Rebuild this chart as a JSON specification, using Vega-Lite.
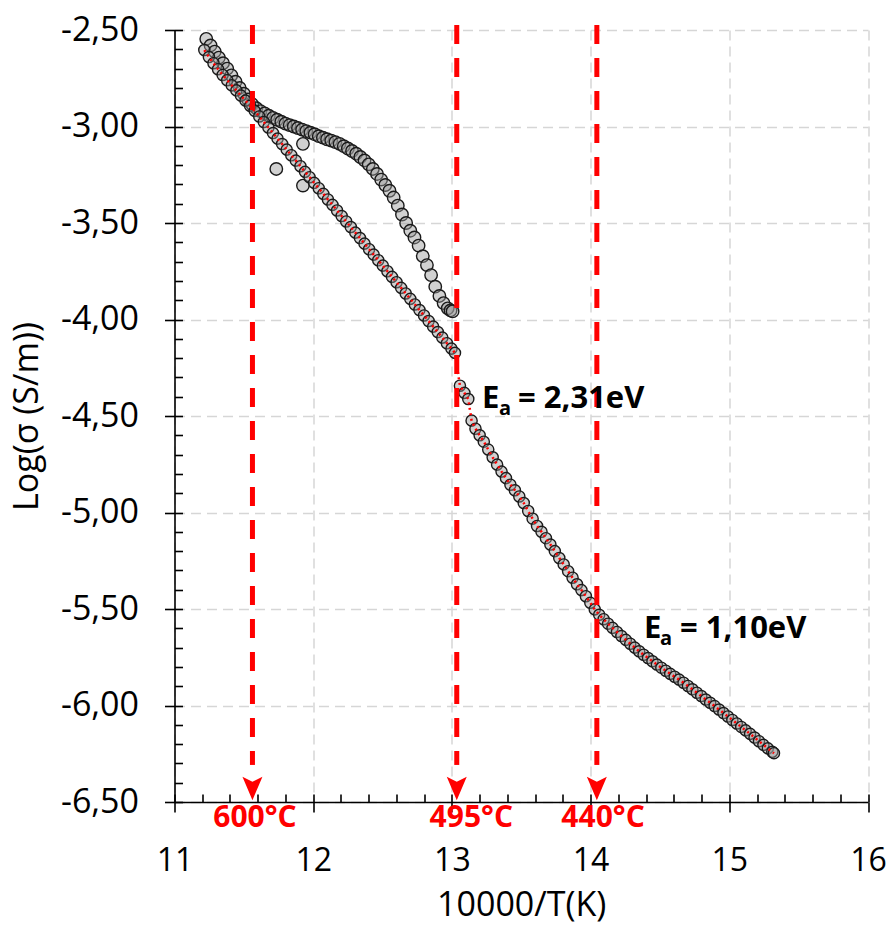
{
  "$schema": "https://vega.github.io/schema/vega-lite/v6.json",
  "autosize": "none",
  "width": 693.5,
  "height": 772,
  "padding": {"left": 174.5, "top": 30, "right": 25, "bottom": 126},
  "background": "white",
  "config": {"view": {"stroke": null}},
  "datasets": {
    "cool": [
      {"x": 11.215, "y": -2.604}, {"x": 11.248, "y": -2.640}, {"x": 11.281, "y": -2.672}, {"x": 11.314, "y": -2.703},
      {"x": 11.347, "y": -2.733}, {"x": 11.380, "y": -2.760}, {"x": 11.413, "y": -2.787}, {"x": 11.446, "y": -2.813},
      {"x": 11.479, "y": -2.840}, {"x": 11.512, "y": -2.866}, {"x": 11.545, "y": -2.893}, {"x": 11.578, "y": -2.919},
      {"x": 11.611, "y": -2.948}, {"x": 11.644, "y": -2.977}, {"x": 11.677, "y": -3.005}, {"x": 11.710, "y": -3.034},
      {"x": 11.743, "y": -3.063}, {"x": 11.776, "y": -3.091}, {"x": 11.809, "y": -3.120}, {"x": 11.842, "y": -3.149},
      {"x": 11.875, "y": -3.177}, {"x": 11.908, "y": -3.206}, {"x": 11.941, "y": -3.235}, {"x": 11.974, "y": -3.263},
      {"x": 12.007, "y": -3.292}, {"x": 12.040, "y": -3.320}, {"x": 12.073, "y": -3.349}, {"x": 12.106, "y": -3.378},
      {"x": 12.139, "y": -3.406}, {"x": 12.172, "y": -3.435}, {"x": 12.205, "y": -3.464}, {"x": 12.238, "y": -3.492},
      {"x": 12.271, "y": -3.521}, {"x": 12.304, "y": -3.550}, {"x": 12.337, "y": -3.578}, {"x": 12.370, "y": -3.607},
      {"x": 12.403, "y": -3.636}, {"x": 12.436, "y": -3.664}, {"x": 12.469, "y": -3.693}, {"x": 12.502, "y": -3.721},
      {"x": 12.535, "y": -3.750}, {"x": 12.568, "y": -3.779}, {"x": 12.601, "y": -3.807}, {"x": 12.634, "y": -3.836},
      {"x": 12.667, "y": -3.865}, {"x": 12.700, "y": -3.893}, {"x": 12.733, "y": -3.922}, {"x": 12.766, "y": -3.951},
      {"x": 12.799, "y": -3.979}, {"x": 12.832, "y": -4.008}, {"x": 12.865, "y": -4.037}, {"x": 12.898, "y": -4.065},
      {"x": 12.931, "y": -4.094}, {"x": 12.964, "y": -4.123}, {"x": 12.997, "y": -4.151}, {"x": 13.022, "y": -4.173},
      {"x": 13.058, "y": -4.343}, {"x": 13.090, "y": -4.380}, {"x": 13.118, "y": -4.412}, {"x": 13.142, "y": -4.524},
      {"x": 13.170, "y": -4.566}, {"x": 13.200, "y": -4.600}, {"x": 13.230, "y": -4.633}, {"x": 13.262, "y": -4.674},
      {"x": 13.294, "y": -4.714}, {"x": 13.326, "y": -4.752}, {"x": 13.358, "y": -4.788}, {"x": 13.390, "y": -4.822},
      {"x": 13.422, "y": -4.856}, {"x": 13.454, "y": -4.885}, {"x": 13.486, "y": -4.917}, {"x": 13.518, "y": -4.951},
      {"x": 13.550, "y": -4.992}, {"x": 13.582, "y": -5.032}, {"x": 13.614, "y": -5.070}, {"x": 13.646, "y": -5.100},
      {"x": 13.678, "y": -5.133}, {"x": 13.710, "y": -5.166}, {"x": 13.742, "y": -5.200}, {"x": 13.774, "y": -5.236},
      {"x": 13.806, "y": -5.269}, {"x": 13.838, "y": -5.304}, {"x": 13.870, "y": -5.338}, {"x": 13.902, "y": -5.372},
      {"x": 13.934, "y": -5.402}, {"x": 13.966, "y": -5.434}, {"x": 13.998, "y": -5.468}, {"x": 14.030, "y": -5.502},
      {"x": 14.062, "y": -5.530}, {"x": 14.094, "y": -5.553}, {"x": 14.126, "y": -5.576}, {"x": 14.158, "y": -5.598},
      {"x": 14.190, "y": -5.619}, {"x": 14.222, "y": -5.640}, {"x": 14.254, "y": -5.660}, {"x": 14.286, "y": -5.680},
      {"x": 14.318, "y": -5.700}, {"x": 14.350, "y": -5.719}, {"x": 14.382, "y": -5.737}, {"x": 14.414, "y": -5.754},
      {"x": 14.446, "y": -5.771}, {"x": 14.478, "y": -5.788}, {"x": 14.510, "y": -5.804}, {"x": 14.542, "y": -5.820},
      {"x": 14.574, "y": -5.836}, {"x": 14.606, "y": -5.851}, {"x": 14.638, "y": -5.866}, {"x": 14.670, "y": -5.882},
      {"x": 14.702, "y": -5.899}, {"x": 14.734, "y": -5.916}, {"x": 14.766, "y": -5.934}, {"x": 14.798, "y": -5.951},
      {"x": 14.830, "y": -5.969}, {"x": 14.862, "y": -5.986}, {"x": 14.894, "y": -6.003}, {"x": 14.926, "y": -6.021},
      {"x": 14.958, "y": -6.039}, {"x": 14.990, "y": -6.057}, {"x": 15.022, "y": -6.075}, {"x": 15.054, "y": -6.093},
      {"x": 15.086, "y": -6.111}, {"x": 15.118, "y": -6.129}, {"x": 15.150, "y": -6.147}, {"x": 15.182, "y": -6.166},
      {"x": 15.214, "y": -6.185}, {"x": 15.246, "y": -6.204}, {"x": 15.278, "y": -6.222}, {"x": 15.310, "y": -6.240},
      {"x": 15.322, "y": -6.247}
    ],
    "heat": [
      {"x": 11.229, "y": -2.546}, {"x": 11.26, "y": -2.580}, {"x": 11.29, "y": -2.612}, {"x": 11.32, "y": -2.643},
      {"x": 11.35, "y": -2.672}, {"x": 11.38, "y": -2.700}, {"x": 11.41, "y": -2.735}, {"x": 11.44, "y": -2.768},
      {"x": 11.47, "y": -2.800}, {"x": 11.50, "y": -2.830}, {"x": 11.53, "y": -2.860}, {"x": 11.56, "y": -2.885},
      {"x": 11.59, "y": -2.905}, {"x": 11.62, "y": -2.920}, {"x": 11.65, "y": -2.932}, {"x": 11.68, "y": -2.944},
      {"x": 11.71, "y": -2.955}, {"x": 11.74, "y": -2.965}, {"x": 11.77, "y": -2.975}, {"x": 11.80, "y": -2.985},
      {"x": 11.83, "y": -2.993}, {"x": 11.86, "y": -3.000}, {"x": 11.89, "y": -3.008}, {"x": 11.92, "y": -3.016},
      {"x": 11.95, "y": -3.024}, {"x": 11.98, "y": -3.032}, {"x": 12.01, "y": -3.040}, {"x": 12.04, "y": -3.050},
      {"x": 12.07, "y": -3.058}, {"x": 12.10, "y": -3.066}, {"x": 12.13, "y": -3.073}, {"x": 12.16, "y": -3.081},
      {"x": 12.19, "y": -3.090}, {"x": 12.22, "y": -3.102}, {"x": 12.25, "y": -3.114}, {"x": 12.28, "y": -3.127},
      {"x": 12.31, "y": -3.141}, {"x": 12.34, "y": -3.158}, {"x": 12.37, "y": -3.176}, {"x": 12.40, "y": -3.196},
      {"x": 12.43, "y": -3.220}, {"x": 12.46, "y": -3.246}, {"x": 12.49, "y": -3.275}, {"x": 12.52, "y": -3.303},
      {"x": 12.55, "y": -3.333}, {"x": 12.58, "y": -3.368}, {"x": 12.61, "y": -3.410}, {"x": 12.64, "y": -3.456},
      {"x": 12.67, "y": -3.500}, {"x": 12.70, "y": -3.540}, {"x": 12.73, "y": -3.575}, {"x": 12.76, "y": -3.617},
      {"x": 12.79, "y": -3.672}, {"x": 12.82, "y": -3.718}, {"x": 12.85, "y": -3.770}, {"x": 12.88, "y": -3.830},
      {"x": 12.91, "y": -3.878}, {"x": 12.94, "y": -3.915}, {"x": 12.97, "y": -3.942}, {"x": 12.99, "y": -3.953},
      {"x": 13.005, "y": -3.958},
      {"x": 11.734, "y": -3.220}, {"x": 11.926, "y": -3.306}, {"x": 11.926, "y": -3.090}
    ],
    "temps": [
      {"x": 11.562, "lx": 11.58, "label": "600°C"},
      {"x": 13.035, "lx": 13.14, "label": "495°C"},
      {"x": 14.045, "lx": 14.09, "label": "440°C"}
    ],
    "annE": [
      {"x": 13.217, "y": -4.459, "t": "E"},
      {"x": 14.385, "y": -5.652, "t": "E"}
    ],
    "annA": [
      {"x": 13.34, "y": -4.495, "t": "a"},
      {"x": 14.50, "y": -5.686, "t": "a"}
    ],
    "annV": [
      {"x": 13.477, "y": -4.459, "t": "= 2,31eV"},
      {"x": 14.645, "y": -5.652, "t": "= 1,10eV"}
    ]
  },
  "resolve": {"axis": {"x": "independent", "y": "independent"}},
  "layer": [
    {
      "data": {"name": "heat"},
      "mark": {"type": "point", "shape": "circle", "filled": true, "size": 155, "fill": "#9a9a9a", "fillOpacity": 0.45, "stroke": "#1a1a1a", "strokeWidth": 1.4, "opacity": 1},
      "encoding": {
        "x": {"field": "x", "type": "quantitative", "scale": {"domain": [11, 16], "nice": false, "zero": false},
          "axis": {"orient": "bottom", "values": [11, 12, 13, 14, 15, 16], "format": "d", "grid": true, "gridColor": "#d6d6d6", "gridDash": [10, 6], "gridWidth": 1.5,
            "domainColor": "#000", "domainWidth": 1.6, "tickColor": "#000", "tickWidth": 1.6, "tickSize": 10,
            "labelFont": "Open Sans", "labelFontSize": 32, "labelColor": "#000", "labelPadding": 33, "labelFlush": false, "labelOverlap": false,
            "title": "10000/T(K)", "titleFont": "Open Sans", "titleFontSize": 34, "titleFontWeight": "normal", "titleColor": "#000", "titlePadding": 12}},
        "y": {"field": "y", "type": "quantitative", "scale": {"domain": [-6.5, -2.5], "nice": false, "zero": false},
          "axis": {"orient": "left", "values": [-6.5, -6, -5.5, -5, -4.5, -4, -3.5, -3, -2.5], "grid": true, "gridColor": "#d6d6d6", "gridDash": [10, 6], "gridWidth": 1.5,
            "labelExpr": "replace(replace(format(datum.value, '.2f'), '.', ','), '\u2212', '-')",
            "domainColor": "#000", "domainWidth": 1.6, "tickColor": "#000", "tickWidth": 1.6, "tickSize": 10,
            "labelFont": "Open Sans", "labelFontSize": 34, "labelColor": "#000", "labelPadding": 26, "labelFlush": false, "labelOverlap": false,
            "title": "Log(σ (S/m))", "titleFont": "Open Sans", "titleFontSize": 34, "titleFontWeight": "normal", "titleColor": "#000", "titlePadding": 16}}
      }
    },
    {
      "data": {"name": "cool"},
      "mark": {"type": "point", "shape": "circle", "filled": true, "size": 125, "fill": "#9a9a9a", "fillOpacity": 0.45, "stroke": "#1a1a1a", "strokeWidth": 1.4, "opacity": 1},
      "encoding": {
        "x": {"field": "x", "type": "quantitative", "scale": {"domain": [11, 16], "nice": false, "zero": false},
          "axis": {"orient": "bottom", "values": [11, 11.2, 11.4, 11.6, 11.8, 12, 12.2, 12.4, 12.6, 12.8, 13, 13.2, 13.4, 13.6, 13.8, 14, 14.2, 14.4, 14.6, 14.8, 15, 15.2, 15.4, 15.6, 15.8, 16],
            "grid": false, "domain": false, "labels": false, "title": null, "tickColor": "#000", "tickWidth": 1.6, "tickSize": -8}},
        "y": {"field": "y", "type": "quantitative", "scale": {"domain": [-6.5, -2.5], "nice": false, "zero": false},
          "axis": {"orient": "left", "values": [-6.5, -6.4, -6.3, -6.2, -6.1, -6, -5.9, -5.8, -5.7, -5.6, -5.5, -5.4, -5.3, -5.2, -5.1, -5, -4.9, -4.8, -4.7, -4.6, -4.5, -4.4, -4.3, -4.2, -4.1, -4, -3.9, -3.8, -3.7, -3.6, -3.5, -3.4, -3.3, -3.2, -3.1, -3, -2.9, -2.8, -2.7, -2.6, -2.5],
            "grid": false, "domain": false, "labels": false, "title": null, "tickColor": "#000", "tickWidth": 1.6, "tickSize": -8}}
      }
    },
    {
      "data": {"name": "cool"},
      "mark": {"type": "line", "color": "#ff0000", "strokeWidth": 2.5, "strokeDash": [2, 3.5]},
      "encoding": {
        "x": {"field": "x", "type": "quantitative", "scale": {"domain": [11, 16], "nice": false, "zero": false}, "axis": null},
        "y": {"field": "y", "type": "quantitative", "scale": {"domain": [-6.5, -2.5], "nice": false, "zero": false}, "axis": null}
      }
    },
    {
      "data": {"name": "temps"},
      "mark": {"type": "rule", "color": "#ff0000", "strokeWidth": 5, "strokeDash": [19, 14]},
      "encoding": {
        "x": {"field": "x", "type": "quantitative", "scale": {"domain": [11, 16], "nice": false, "zero": false}, "axis": null},
        "y": {"datum": -2.474, "type": "quantitative", "scale": {"domain": [-6.5, -2.5], "nice": false, "zero": false}, "axis": null},
        "y2": {"datum": -6.308}
      }
    },
    {
      "data": {"name": "temps"},
      "mark": {"type": "point", "shape": "M0,1.165L-1,-1.165L0,-0.665L1,-1.165Z", "filled": true, "size": 400, "fill": "#ff0000", "stroke": null, "opacity": 1},
      "encoding": {
        "x": {"field": "x", "type": "quantitative", "scale": {"domain": [11, 16], "nice": false, "zero": false}, "axis": null},
        "y": {"datum": -6.43, "type": "quantitative", "scale": {"domain": [-6.5, -2.5], "nice": false, "zero": false}, "axis": null}
      }
    },
    {
      "data": {"name": "temps"},
      "mark": {"type": "text", "color": "#ff0000", "font": "Open Sans", "fontSize": 30, "fontWeight": "bold", "align": "center", "baseline": "middle"},
      "encoding": {
        "x": {"field": "lx", "type": "quantitative", "scale": {"domain": [11, 16], "nice": false, "zero": false}, "axis": null},
        "y": {"datum": -6.585, "type": "quantitative", "scale": {"domain": [-6.5, -2.5], "nice": false, "zero": false}, "axis": null},
        "text": {"field": "label"}
      }
    },
    {
      "data": {"name": "annE"},
      "mark": {"type": "text", "color": "#000", "font": "Open Sans", "fontSize": 31, "fontWeight": "bold", "align": "left", "baseline": "alphabetic"},
      "encoding": {
        "x": {"field": "x", "type": "quantitative", "scale": {"domain": [11, 16], "nice": false, "zero": false}, "axis": null},
        "y": {"field": "y", "type": "quantitative", "scale": {"domain": [-6.5, -2.5], "nice": false, "zero": false}, "axis": null},
        "text": {"field": "t"}
      }
    },
    {
      "data": {"name": "annA"},
      "mark": {"type": "text", "color": "#000", "font": "Open Sans", "fontSize": 20, "fontWeight": "bold", "align": "left", "baseline": "alphabetic"},
      "encoding": {
        "x": {"field": "x", "type": "quantitative", "scale": {"domain": [11, 16], "nice": false, "zero": false}, "axis": null},
        "y": {"field": "y", "type": "quantitative", "scale": {"domain": [-6.5, -2.5], "nice": false, "zero": false}, "axis": null},
        "text": {"field": "t"}
      }
    },
    {
      "data": {"name": "annV"},
      "mark": {"type": "text", "color": "#000", "font": "Open Sans", "fontSize": 31, "fontWeight": "bold", "align": "left", "baseline": "alphabetic"},
      "encoding": {
        "x": {"field": "x", "type": "quantitative", "scale": {"domain": [11, 16], "nice": false, "zero": false}, "axis": null},
        "y": {"field": "y", "type": "quantitative", "scale": {"domain": [-6.5, -2.5], "nice": false, "zero": false}, "axis": null},
        "text": {"field": "t"}
      }
    }
  ]
}
